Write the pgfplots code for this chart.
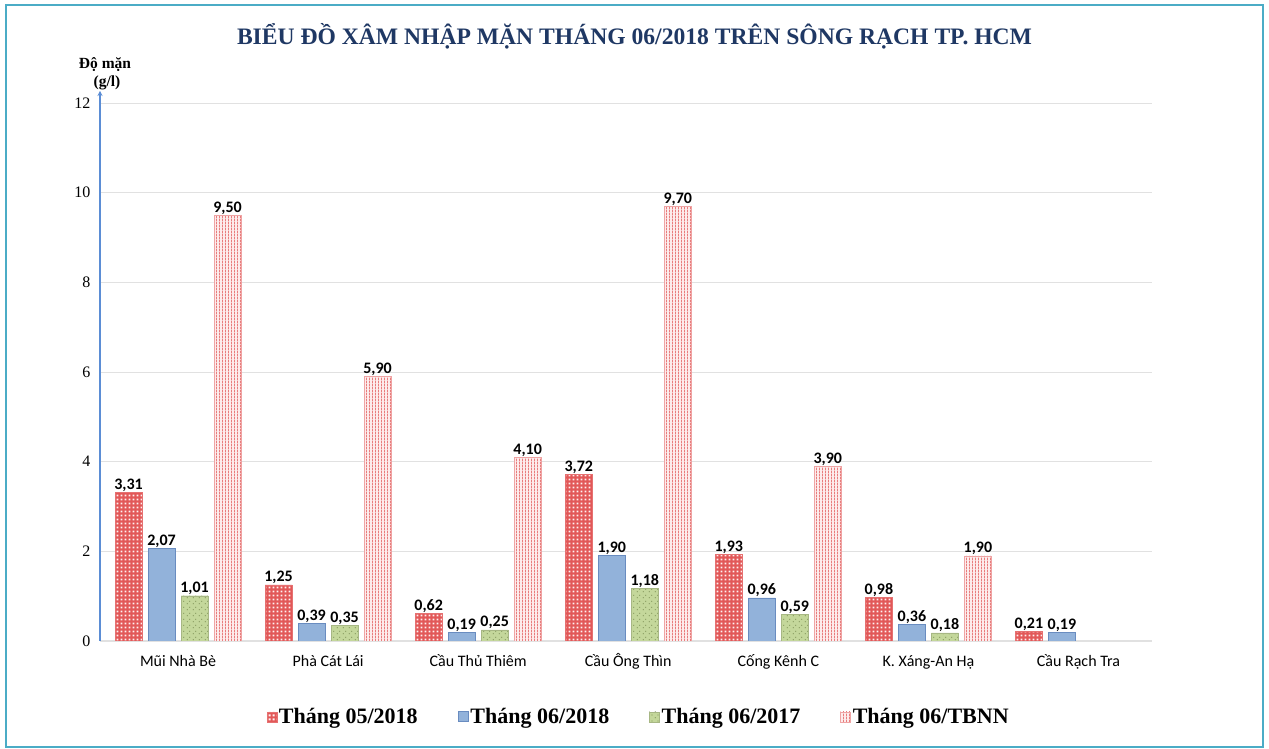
\documentclass[border=0pt]{standalone}
\usepackage{fontspec}
\setmainfont{Liberation Serif}
\newfontfamily\calibri{Carlito}
\usepackage{pgfplots}
\pgfplotsset{compat=1.18}
\usetikzlibrary{patterns.meta, arrows.meta}

\definecolor{titleblue}{RGB}{31,56,100}
\definecolor{frameteal}{RGB}{75,172,198}
\definecolor{axblue}{RGB}{91,141,213}
\definecolor{gridgray}{RGB}{225,225,225}
\definecolor{redbar}{RGB}{226,88,88}
\definecolor{redsq}{RGB}{255,240,240}
\definecolor{bluebar}{RGB}{146,178,218}
\definecolor{blueedge}{RGB}{105,140,192}
\definecolor{greenbar}{RGB}{196,215,155}
\definecolor{greendot}{RGB}{79,98,40}
\definecolor{pinkbar}{RGB}{253,236,236}
\definecolor{pinkline}{RGB}{232,125,125}

% white squares on red
\tikzdeclarepattern{
  name=wsquares, type=uncolored,
  bottom left={(0pt,0pt)}, top right={(4pt,4pt)}, tile size={(4pt,4pt)},
  code={\fill (0.7pt,0.7pt) rectangle (3.1pt,3.1pt);}
}
% sparse dots on green
\tikzdeclarepattern{
  name=sdots, type=uncolored,
  bottom left={(0pt,0pt)}, top right={(6pt,6pt)}, tile size={(6pt,6pt)},
  code={\fill (1pt,1pt) rectangle (1.8pt,1.8pt); \fill (4pt,4pt) rectangle (4.8pt,4.8pt);}
}
% vertical stripes
\tikzdeclarepattern{
  name=vstripes, type=uncolored,
  bottom left={(0pt,0pt)}, top right={(3pt,3pt)}, tile size={(3pt,3pt)},
  code={\fill (0pt,0pt) rectangle (1.1pt,3pt);}
}

\begin{document}
\begin{tikzpicture}
\fill[white] (0,0) rectangle (1269pt,749pt);
\draw[frameteal, line width=1.6pt] (6pt,2pt) rectangle (1263pt,744pt);

\node[anchor=base, text=titleblue, font=\bfseries\fontsize{23.6}{27}\selectfont]
  at (634.5pt,704pt) {BIỂU ĐỒ XÂM NHẬP MẶN THÁNG 06/2018 TRÊN SÔNG RẠCH TP. HCM};
\node[anchor=base, font=\bfseries\fontsize{15.5}{18}\selectfont] at (105pt,680pt) {Độ mặn};
\node[anchor=base, font=\bfseries\fontsize{15.5}{18}\selectfont] at (107pt,662pt) {(g/l)};

\begin{axis}[
  at={(100pt,108pt)}, anchor=south west,
  scale only axis, width=1052pt, height=538pt,
  ybar=6pt, bar width=27pt,
  xmin=-0.52, xmax=6.49, ymin=0, ymax=12,
  xtick={0,...,6},
  xticklabels={Mũi Nhà Bè, Phà Cát Lái, Cầu Thủ Thiêm, Cầu Ông Thìn, Cống Kênh C, K. Xáng-An Hạ, Cầu Rạch Tra},
  ytick={0,2,...,12},
  major tick length=0pt,
  ymajorgrids, grid style={gridgray, line width=0.8pt},
  axis x line*=bottom, axis y line*=left,
  x axis line style={draw=gridgray, line width=1pt, -},
  y axis line style={draw=axblue, line width=1.4pt, -{Stealth[length=5pt,width=5pt]}, shorten >=-12pt},
  /pgf/number format/assume math mode=true,
  yticklabel style={font=\fontsize{16}{18}\selectfont, xshift=-6pt},
  xticklabel style={font=\calibri\fontsize{16}{19}\selectfont, text height=12pt, text depth=3pt, yshift=-10pt},
  nodes near coords,
  nodes near coords style={/pgf/number format/fixed, /pgf/number format/fixed zerofill, /pgf/number format/precision=2, /pgf/number format/use comma},
  every node near coord/.append style={font=\calibri\bfseries\fontsize{16}{18}\selectfont, anchor=base, yshift=3pt, text=black},
  legend style={at={(0.512,-0.141)}, anchor=center, draw=none, fill=none,
    legend columns=4, font=\bfseries\fontsize{22}{26}\selectfont,
    /tikz/every even column/.append style={column sep=38pt}},
  legend image code/.code={\draw[#1] (0pt,-5pt) rectangle (10pt,5pt);},
]
\addplot[fill=redbar, draw=redbar!85, line width=0.4pt, postaction={pattern=wsquares, pattern color=redsq}]
  coordinates {(0,3.31) (1,1.25) (2,0.62) (3,3.72) (4,1.93) (5,0.98) (6,0.21)};
\addplot[fill=bluebar, draw=blueedge, line width=0.8pt]
  coordinates {(0,2.07) (1,0.39) (2,0.19) (3,1.90) (4,0.96) (5,0.36) (6,0.19)};
\addplot[fill=greenbar, draw=greenbar!85!black, line width=0.4pt, postaction={pattern=sdots, pattern color=greendot}]
  coordinates {(0,1.01) (1,0.35) (2,0.25) (3,1.18) (4,0.59) (5,0.18)};
\addplot[fill=pinkbar, draw=pinkline!70, line width=0.4pt, postaction={pattern=vstripes, pattern color=pinkline}]
  coordinates {(0,9.50) (1,5.90) (2,4.10) (3,9.70) (4,3.90) (5,1.90)};
\legend{Tháng 05/2018, Tháng 06/2018, Tháng 06/2017, Tháng 06/TBNN}
\end{axis}
\end{tikzpicture}
\end{document}
